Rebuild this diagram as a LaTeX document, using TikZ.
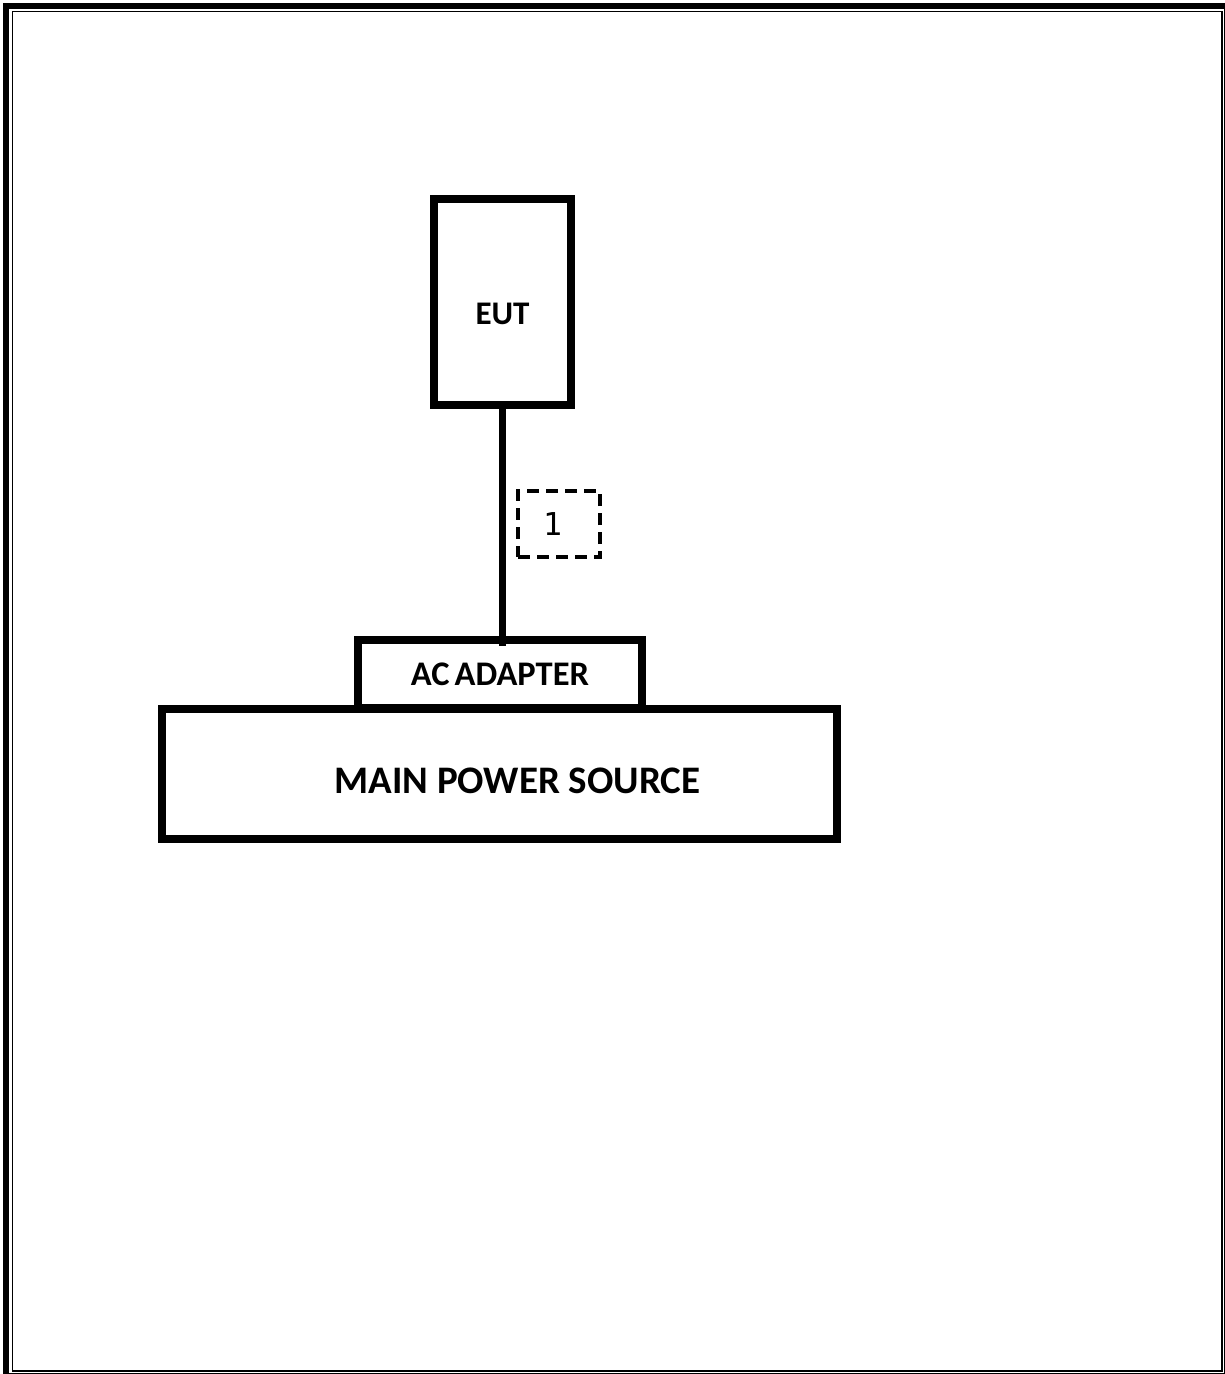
\documentclass[tikz,border=0pt]{standalone}
\usepackage{fontspec}
\setmainfont{Carlito}
\newfontfamily\cablefont{DejaVu Sans Mono}
\usepackage{tikz}

\begin{document}
\begin{tikzpicture}[x=1pt, y=-1pt,
    unit/.style={draw, rectangle, line width=8pt, inner sep=0pt, outer sep=0pt},
    cable/.style={line width=6.5pt},
    tag/.style={draw, rectangle, dash pattern=on 12pt off 7pt, line width=3.5pt,
      inner sep=0pt, outer sep=0pt, minimum width=82pt, minimum height=66pt}]
    \useasboundingbox (0,0) rectangle (1225,1374);
    % page frame
    \draw[line width=6pt] (5.5,5.5) rectangle (1227,1376);
    \draw[line width=1.8pt] (12.5,11.5) rectangle (1222,1371);
    % units
    \node (EUT) [unit, minimum width=137pt, minimum height=205.5pt,
      label={[font=\fontsize{33}{40}\selectfont\bfseries, yshift=-12.25pt]center:EUT}]
      at (502.5,301.75) {};
    \node (ADAPTER) [unit, minimum width=284pt, minimum height=68pt,
      font=\fontsize{34.5}{41}\selectfont\bfseries] at (500,674) {AC\hspace{-0.08em} ADAPTER};
    \node (MAIN) [unit, minimum width=675pt, minimum height=130pt,
      label={[font=\fontsize{39}{46}\selectfont\bfseries, xshift=18.5pt, yshift=-6.5pt]center:MAIN POWER SOURCE}]
      at (499,774) {};
    % cable and its number
    \draw[cable] (EUT.south) -- ([yshift=-6pt]EUT.south |- ADAPTER.north);
    \node (C1) [tag, label={[font=\fontsize{31.5}{38}\selectfont\cablefont, xshift=-6.5pt]center:1}]
      at (559,524) {};
\end{tikzpicture}
\end{document}
